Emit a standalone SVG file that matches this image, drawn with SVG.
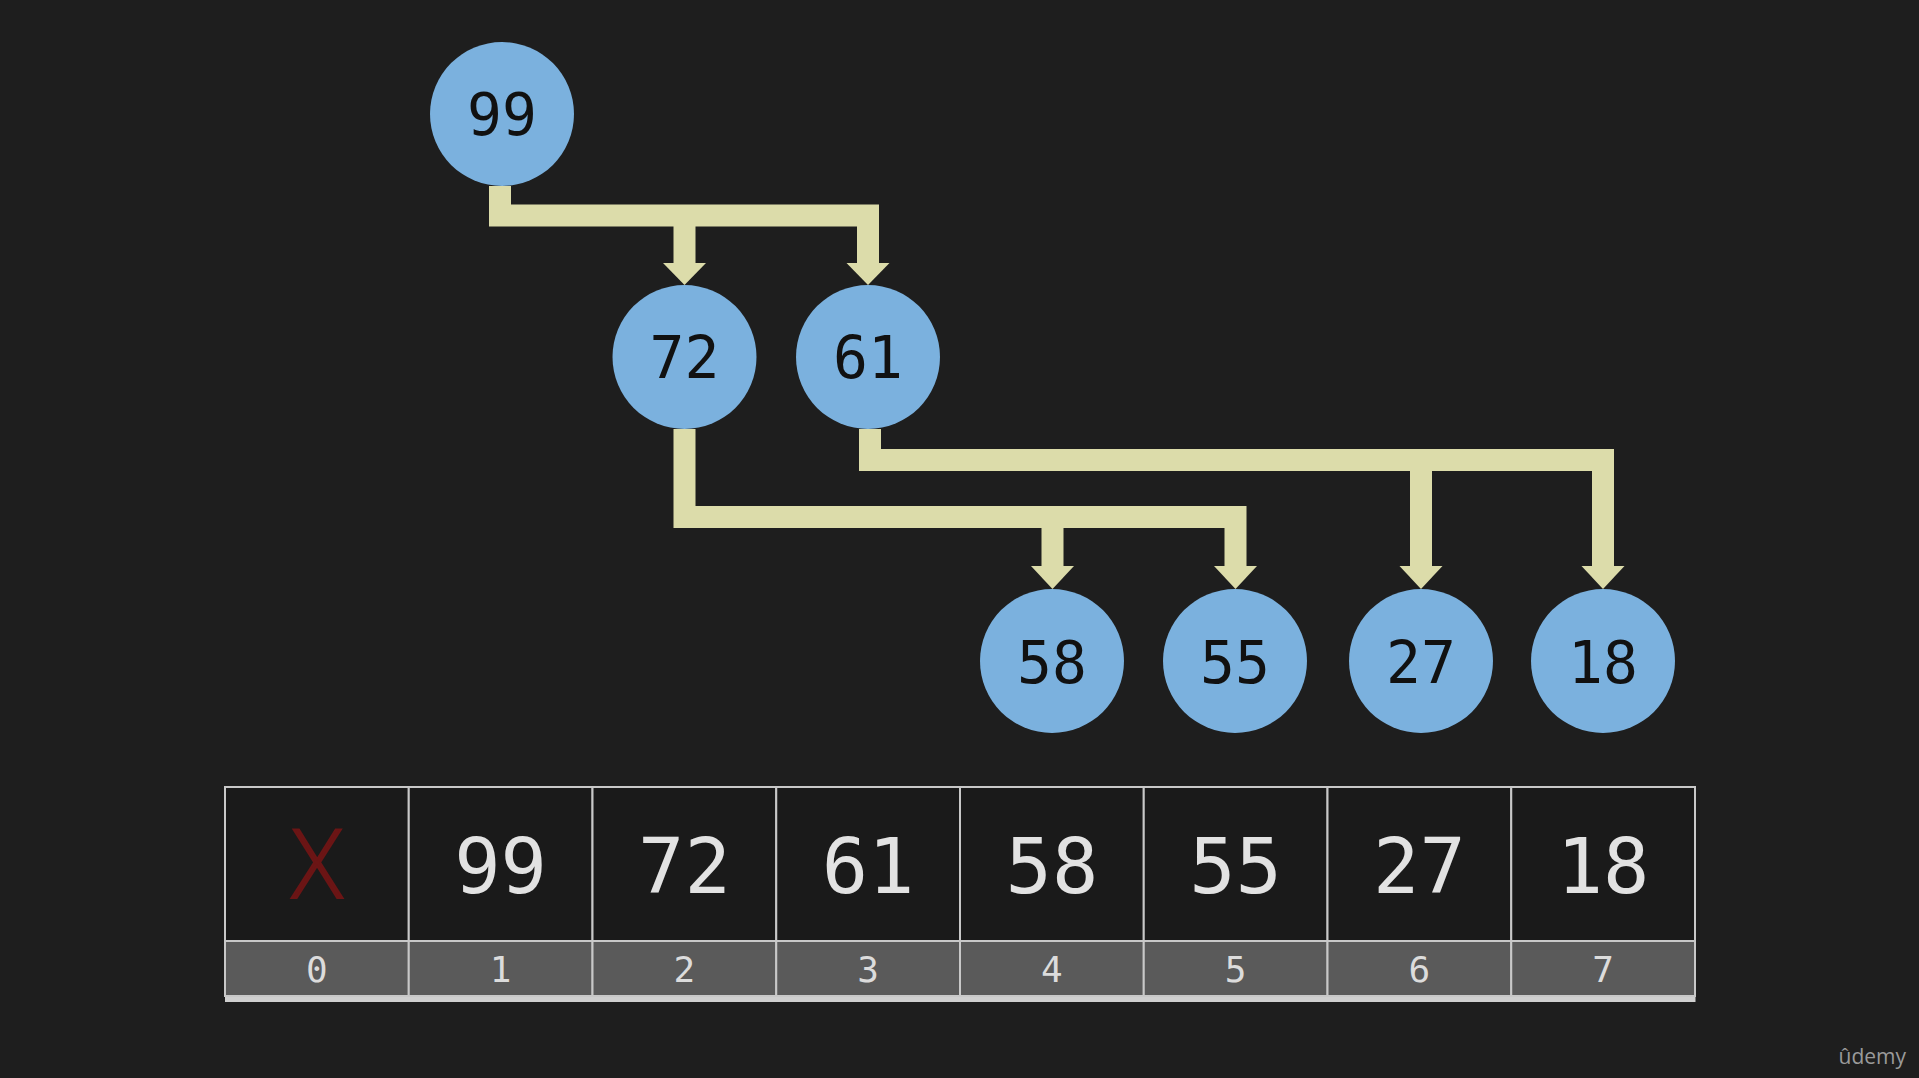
<svg xmlns="http://www.w3.org/2000/svg" width="1919" height="1078" viewBox="0 0 1919 1078">
<style>
.bg{fill:#1e1e1e}
.node circle{fill:#7bb1de}
.node text{font-family:"DejaVu Sans Mono",monospace;font-size:58px;fill:#111;text-anchor:middle}
.conn path{fill:none;stroke:#dcdcaa;stroke-width:22;stroke-linejoin:miter;stroke-linecap:butt}
.conn polygon{fill:#dcdcaa}
.cell{fill:#1a1a1a;stroke:#c8c8c8;stroke-width:2}
.idx{fill:#5a5a5a;stroke:#c8c8c8;stroke-width:2}
.val{font-family:"DejaVu Sans Mono",monospace;font-size:77px;fill:#e2e2e2;text-anchor:middle}
.itxt{font-family:"DejaVu Sans Mono",monospace;font-size:36px;fill:#dcdcdc;text-anchor:middle}
</style>
<rect class="bg" x="0" y="0" width="1919" height="1078"/>
<g class="conn" id="connectors">
<path d="M500,186 V215.5 H868 V264"/>
<path d="M684.5,215.5 V264"/>
<polygon points="663,263 706,263 684.5,285"/>
<polygon points="846.5,263 889.5,263 868,285"/>
<path d="M684.5,429 V517 H1235.5 V567"/>
<path d="M1052.5,517 V567"/>
<polygon points="1031,566 1074,566 1052.5,589"/>
<polygon points="1214,566 1257,566 1235.5,589"/>
<path d="M870,429 V460 H1603 V567"/>
<path d="M1421,460 V567"/>
<polygon points="1399.5,566 1442.5,566 1421,589"/>
<polygon points="1581.5,566 1624.5,566 1603,589"/>
</g>
<g class="node" id="n99"><circle cx="502" cy="114" r="72"/><text x="502" y="135">99</text></g>
<g class="node" id="n72"><circle cx="684.5" cy="357" r="72"/><text x="684.5" y="378">72</text></g>
<g class="node" id="n61"><circle cx="868" cy="357" r="72"/><text x="868" y="378">61</text></g>
<g class="node" id="n58"><circle cx="1052" cy="661" r="72"/><text x="1052" y="683">58</text></g>
<g class="node" id="n55"><circle cx="1235" cy="661" r="72"/><text x="1235" y="683">55</text></g>
<g class="node" id="n27"><circle cx="1421" cy="661" r="72"/><text x="1421" y="683">27</text></g>
<g class="node" id="n18"><circle cx="1603" cy="661" r="72"/><text x="1603" y="683">18</text></g>
<g id="array">
<rect x="225" y="995" width="1470.5" height="7" fill="#cfcfcf"/>
<rect class="cell" x="225" y="787" width="183.75" height="154"/>
<rect class="cell" x="408.75" y="787" width="183.75" height="154"/>
<rect class="cell" x="592.5" y="787" width="183.75" height="154"/>
<rect class="cell" x="776.25" y="787" width="183.75" height="154"/>
<rect class="cell" x="960" y="787" width="183.75" height="154"/>
<rect class="cell" x="1143.75" y="787" width="183.75" height="154"/>
<rect class="cell" x="1327.5" y="787" width="183.75" height="154"/>
<rect class="cell" x="1511.25" y="787" width="183.75" height="154"/>
<rect class="idx" x="225" y="941" width="183.75" height="55"/>
<rect class="idx" x="408.75" y="941" width="183.75" height="55"/>
<rect class="idx" x="592.5" y="941" width="183.75" height="55"/>
<rect class="idx" x="776.25" y="941" width="183.75" height="55"/>
<rect class="idx" x="960" y="941" width="183.75" height="55"/>
<rect class="idx" x="1143.75" y="941" width="183.75" height="55"/>
<rect class="idx" x="1327.5" y="941" width="183.75" height="55"/>
<rect class="idx" x="1511.25" y="941" width="183.75" height="55"/>
<text x="317" y="898" font-family="Open Sans, sans-serif" font-weight="300" font-size="95" fill="#6b1515" stroke="#6b1515" stroke-width="2" text-anchor="middle">X</text>
<text class="val" x="500.6" y="893">99</text>
<text class="val" x="684.4" y="893">72</text>
<text class="val" x="868.1" y="893">61</text>
<text class="val" x="1051.9" y="893">58</text>
<text class="val" x="1235.6" y="893">55</text>
<text class="val" x="1419.4" y="893">27</text>
<text class="val" x="1603.1" y="893">18</text>
<text class="itxt" x="316.9" y="982">0</text>
<text class="itxt" x="500.6" y="982">1</text>
<text class="itxt" x="684.4" y="982">2</text>
<text class="itxt" x="868.1" y="982">3</text>
<text class="itxt" x="1051.9" y="982">4</text>
<text class="itxt" x="1235.6" y="982">5</text>
<text class="itxt" x="1419.4" y="982">6</text>
<text class="itxt" x="1603.1" y="982">7</text>
</g>
<text x="1906" y="1064" font-family="Open Sans, sans-serif" font-size="21" fill="#9a9a9a" text-anchor="end">ûdemy</text>
</svg>
